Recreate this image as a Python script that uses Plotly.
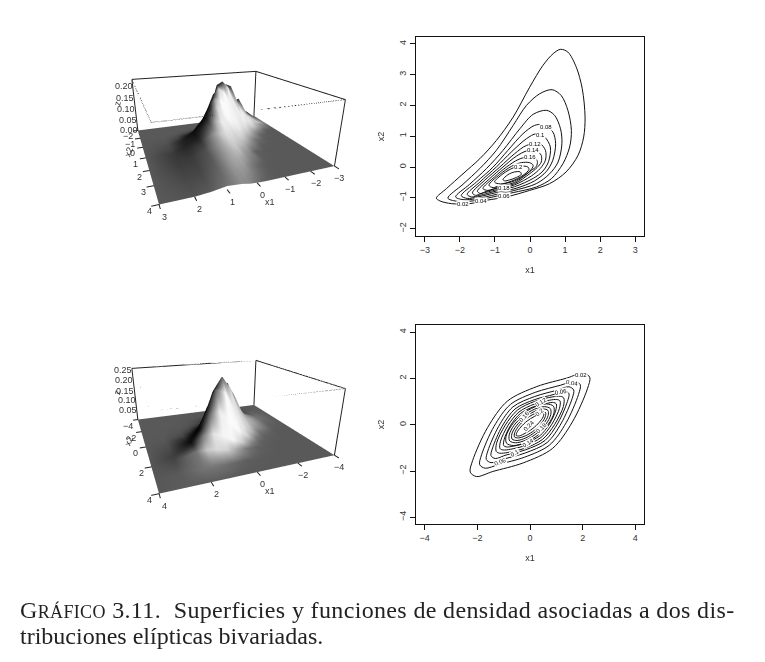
import plotly.graph_objects as go
import numpy as np

# ---------- top surface ----------
top_x1 = [-3,-2.5,-2,-1.5,-1,-.75,-.5,-.25,0,.25,.5,1,1.5,2,3]
top_x2 = [-2,-1.5,-1.25,-1,-.75,-.5,-.25,0,.25,.5,1,1.5,2,3,4]
top_z = [
 [0,0,0,0,0,0,0,0,0,0,0,0,0,0,0],
 [0,0,.001,.001,0,0,0,0,0,0,0,0,0,0,0],
 [0,.003,.014,.012,.006,.004,.002,.001,0,0,0,0,0,0,0],
 [0,.03,.065,.062,.038,.024,.015,.009,.005,.003,.001,0,0,0,0],
 [0,.012,.05,.135,.12,.085,.055,.036,.025,.015,.009,.002,0,0,0],
 [0,.008,.03,.09,.20,.21,.165,.105,.072,.052,.03,.007,.001,0,0],
 [0,.002,.014,.052,.145,.205,.228,.215,.135,.10,.06,.015,.003,0,0],
 [0,0,.006,.03,.09,.14,.185,.205,.185,.13,.085,.03,.005,0,0],
 [0,0,.001,.018,.06,.09,.13,.16,.168,.15,.10,.04,.01,0,0],
 [0,0,0,.008,.038,.065,.085,.125,.145,.13,.105,.045,.012,0,0],
 [0,0,0,.002,.012,.03,.052,.075,.10,.105,.10,.05,.024,0,0],
 [0,0,0,0,.001,.012,.024,.045,.065,.072,.075,.05,.024,0,0],
 [0,0,0,0,0,.002,.012,.022,.042,.05,.053,.04,.022,0,0],
 [0,0,0,0,0,0,.001,.004,.012,.021,.028,.03,.013,0,0],
 [0,0,0,0,0,0,0,0,.001,.003,.008,.012,.004,0,0],
]
# ---------- bottom surface ----------
bot_x1 = [-4,-3,-2,-1.5,-1,-.5,0,.5,1,1.5,2,3,4]
bot_x2 = [-4,-3,-2,-1.5,-1,-.5,0,.5,1,1.5,2,3,4]
bot_z = [
 [0,0,0,0,0,0,0,0,0,0,0,0,0],
 [0,.002,.002,.002,.001,0,0,0,0,0,0,0,0],
 [0,.003,.027,.028,.021,.012,.005,.003,.001,0,0,0,0],
 [0,.002,.037,.068,.068,.053,.027,.012,.003,.001,0,0,0],
 [0,.001,.027,.08,.135,.14,.098,.05,.016,.003,.001,0,0],
 [0,.001,.014,.058,.147,.22,.20,.115,.045,.01,.002,0,0],
 [0,0,.006,.03,.095,.20,.26,.20,.095,.03,.006,0,0],
 [0,0,.002,.01,.045,.115,.20,.22,.147,.058,.014,.001,0],
 [0,0,.001,.003,.016,.05,.098,.14,.135,.08,.027,.001,0],
 [0,0,0,.001,.003,.012,.027,.053,.068,.068,.037,.002,0],
 [0,0,0,0,.001,.003,.005,.012,.021,.028,.027,.003,0],
 [0,0,0,0,0,0,0,0,.001,.002,.002,.002,0],
 [0,0,0,0,0,0,0,0,0,0,0,0,0],
]

# ---------- contour lines, top panel (x1, x2) ----------
top_002 = [(-2.67,-1.01),(-2.38,-.70),(-1.91,-.22),(-1.43,.27),(-.96,.86),(-.48,1.62),(-.01,2.59),(.37,3.30),(.66,3.68),(.87,3.82),(1.08,3.73),(1.32,3.24),(1.49,2.54),(1.57,1.62),(1.53,.97),(1.37,.38),(1.03,-.16),(.56,-.54),(-.01,-.76),(-.67,-.97),(-1.24,-1.08),(-1.72,-1.19),(-2.24,-1.19),(-2.57,-1.10)]
top_004 = [(-2.34,-1.01),(-1.91,-.56),(-1.43,-.05),(-.96,.54),(-.48,1.35),(-.10,2.00),(.28,2.38),(.63,2.51),(.89,2.32),(1.08,1.84),(1.18,1.19),(1.13,.65),(.94,.11),(.61,-.38),(.18,-.65),(-.48,-.83),(-1.05,-.97),(-1.62,-1.10),(-2.10,-1.11)]
top_006 = [(-2.12,-.97),(-1.72,-.56),(-1.24,-.05),(-.77,.54),(-.29,1.24),(.09,1.71),(.47,1.84),(.70,1.68),(.87,1.24),(.91,.76),(.80,.16),(.56,-.22),(.18,-.54),(-.48,-.77),(-.96,-.89),(-1.53,-1.03),(-1.91,-1.06)]
top_008 = [(-1.96,-.93),(-1.53,-.49),(-1.05,0),(-.63,.54),(-.20,1.08),(.13,1.35),(.37,1.37),(.65,1.14),(.73,.76),(.65,.22),(.47,-.14),(.13,-.45),(-.39,-.69),(-.96,-.83),(-1.48,-.97),(-1.79,-1.02)]
top_010 = [(-1.79,-.89),(-1.43,-.49),(-.96,0),(-.53,.49),(-.10,.92),(.18,1.08),(.42,.97),(.58,.65),(.53,.18),(.37,-.13),(.09,-.37),(-.44,-.64),(-.96,-.78),(-1.43,-.92),(-1.67,-.97)]
top_012 = [(-1.64,-.84),(-1.29,-.43),(-.86,0),(-.44,.43),(-.10,.70),(.28,.76),(.44,.54),(.44,.22),(.29,-.05),(.04,-.29),(-.44,-.58),(-.96,-.74),(-1.39,-.86),(-1.55,-.92)]
top_014 = [(-1.50,-.79),(-1.15,-.38),(-.77,0),(-.39,.35),(-.10,.52),(.18,.52),(.32,.38),(.32,.16),(.20,-.02),(-.01,-.22),(-.44,-.54),(-.91,-.68),(-1.29,-.81),(-1.41,-.86)]
top_016 = [(-1.34,-.70),(-1.01,-.32),(-.67,0),(-.34,.24),(-.10,.32),(.13,.29),(.21,.18),(.18,.02),(.04,-.11),(-.44,-.50),(-.86,-.63),(-1.20,-.76)]
top_018 = [(-1.17,-.59),(-.86,-.24),(-.53,.02),(-.25,.14),(-.01,.14),(.09,.05),(-.01,-.14),(-.44,-.45),(-.82,-.57),(-1.05,-.67)]
top_020 = [(-1.01,-.49),(-.77,-.22),(-.48,-.03),(-.25,.03),(-.06,0),(-.03,-.08),(-.20,-.27),(-.53,-.46),(-.84,-.55)]
top_022 = [(-.77,-.41),(-.63,-.25),(-.44,-.16),(-.28,-.16),(-.25,-.24),(-.39,-.34),(-.58,-.42),(-.72,-.45)]
top_rings = [top_002,top_004,top_006,top_008,top_010,top_012,top_014,top_016,top_018,top_020,top_022]

# ---------- contour lines, bottom panel (x1, x2) ----------
bot_002 = [(2.27,2.05),(2.18,1.55),(1.61,.12),(.86,-1.02),(-.26,-1.65),(-1.41,-2.02),(-2.03,-2.24),(-2.27,-2.05),(-2.18,-1.55),(-1.61,-.12),(-.86,1.02),(.26,1.65),(1.41,2.02),(2.03,2.24)]
bot_004 = [(1.91,1.73),(1.84,1.30),(1.37,.08),(.74,-.88),(-.20,-1.40),(-1.17,-1.71),(-1.70,-1.88),(-1.91,-1.73),(-1.84,-1.30),(-1.37,-.08),(-.74,.88),(.20,1.40),(1.17,1.71),(1.70,1.88)]
bot_006 = [(1.66,1.50),(1.60,1.13),(1.19,.07),(.65,-.77),(-.18,-1.22),(-1.02,-1.49),(-1.48,-1.64),(-1.66,-1.50),(-1.60,-1.13),(-1.19,-.07),(-.65,.77),(.18,1.22),(1.02,1.49),(1.48,1.64)]
bot_008 = [(1.48,1.34),(1.42,1.00),(1.06,.07),(.57,-.68),(-.16,-1.08),(-.91,-1.31),(-1.32,-1.46),(-1.48,-1.34),(-1.42,-1.00),(-1.06,-.07),(-.57,.68),(.16,1.08),(.91,1.31),(1.32,1.46)]
bot_010 = [(1.28,1.16),(1.27,.80),(.94,.02),(.48,-.63),(-.18,-1.01),(-.84,-1.20),(-1.15,-1.23),(-1.28,-1.16),(-1.27,-.80),(-.94,-.02),(-.48,.63),(.18,1.01),(.84,1.20),(1.15,1.23)]
bot_012 = [(1.14,1.03),(1.12,.71),(.83,.02),(.42,-.55),(-.16,-.89),(-.74,-1.06),(-1.02,-1.09),(-1.14,-1.03),(-1.12,-.71),(-.83,-.02),(-.42,.55),(.16,.89),(.74,1.06),(1.02,1.09)]
bot_014 = [(1.00,.90),(.98,.63),(.74,.03),(.37,-.48),(-.14,-.78),(-.65,-.93),(-.90,-.96),(-1.00,-.90),(-.98,-.63),(-.74,-.03),(-.37,.48),(.14,.78),(.65,.93),(.90,.96)]
bot_016 = [(.89,.80),(.91,.50),(.70,.03),(.31,-.44),(-.18,-.77),(-.63,-.90),(-.89,-.80),(-.91,-.50),(-.70,-.03),(-.31,.44),(.18,.77),(.63,.90)]
bot_018 = [(.77,.70),(.79,.44),(.61,.03),(.26,-.37),(-.17,-.67),(-.55,-.78),(-.77,-.70),(-.79,-.44),(-.61,-.03),(-.26,.37),(.17,.67),(.55,.78)]
bot_020 = [(.68,.62),(.69,.40),(.52,.05),(.21,-.30),(-.16,-.57),(-.49,-.68),(-.68,-.62),(-.69,-.40),(-.52,-.05),(-.21,.30),(.16,.57),(.49,.68)]
bot_022 = [(.59,.53),(.58,.35),(.44,.07),(.17,-.24),(-.16,-.47),(-.44,-.57),(-.59,-.53),(-.58,-.35),(-.44,-.07),(-.17,.24),(.16,.47),(.44,.57)]
bot_024 = [(.52,.47),(.50,.34),(.35,.10),(.11,-.16),(-.17,-.36),(-.40,-.48),(-.52,-.47),(-.50,-.34),(-.35,-.10),(-.11,.16),(.17,.36),(.40,.48)]
bot_rings = [bot_002,bot_004,bot_006,bot_008,bot_010,bot_012,bot_014,bot_016,bot_018,bot_020,bot_022,bot_024]

# contour label texts
top_label_text = ["0.08","0.1","0.12","0.14","0.16","0.2","0.18","0.06","0.04","0.02"]
top_label_x1 = [.47,.30,.15,.09,.01,-.32,-.75,-.75,-1.39,-1.91]
top_label_x2 = [1.30,1.03,.76,.54,.31,0,-.67,-.95,-1.10,-1.19]
bot_label_text = ["0.02","0.04","0.06","0.06","0.1","0.12","0.16","0.2","0.24","0.18","0.14"]
bot_label_x1 = [1.95,1.61,1.16,-1.15,-.58,.43,-.24,.37,-.05,.43,-.08]
bot_label_x2 = [2.15,1.79,1.40,-1.59,-1.20,.97,.35,.56,-.06,-.12,-.78]
bot_label_rot = [0,10,-10,-20,-30,-30,-50,-40,-45,-45,-30]

# tick labels
top_x1_ticks = [-3,-2,-1,0,1,2,3]
top_x2_ticks = [-2,-1,0,1,2,3,4]
top_z_ticks = [0,.05,.10,.15,.20]
bot_x1_ticks = [-4,-2,0,2,4]
bot_x2_ticks = [-4,-2,0,2,4]
bot_z_ticks = [.05,.10,.15,.20,.25]

W, H = 765, 662
INK = "#111111"
FONT = "Liberation Sans"
K = 1.5        # scene axes are wider than the drawn box so that ticks fit
ZASPECT = .40
LIGHT = np.array([-.45, .75, .48])
SHADE = 3.5

fig = go.Figure()

def frame3d(xr, yr, ztop, scene, x_ticks, y_ticks, dotted_a, dotted_b):
    x0, x1 = xr
    y0, y1 = yr
    s = dict(mode="lines", showlegend=False, hoverinfo="skip", scene=scene)
    solid = dict(color="#222222", width=2)
    fig.add_trace(go.Scatter3d(x=[x1,x0,x0], y=[y0,y0,y1], z=[ztop]*3, line=solid, **s))
    for (a,b) in [(x1,y0),(x0,y0),(x0,y1)]:
        fig.add_trace(go.Scatter3d(x=[a,a], y=[b,b], z=[0,ztop], line=solid, **s))
    dot = dict(color="#333333", width=2, dash="dot")
    fig.add_trace(go.Scatter3d(x=[x1,x1], y=[y0,y1], z=[ztop,ztop], line=dot, **s))
    fig.add_trace(go.Scatter3d(x=[x1,dotted_a], y=[y1,y1], z=[ztop,ztop], line=dot, **s))
    fig.add_trace(go.Scatter3d(x=[dotted_b,x0], y=[y1,y1], z=[ztop,ztop], line=dot, **s))
    tx = (y1-y0)*0.035
    for t in x_ticks:
        fig.add_trace(go.Scatter3d(x=[t,t], y=[y1,y1+tx], z=[0,0], line=solid, **s))
    tx = (x1-x0)*0.035
    for t in y_ticks:
        fig.add_trace(go.Scatter3d(x=[x1,x1+tx], y=[t,t], z=[0,0], line=solid, **s))

def surface(x, y, z, scene, xr, yr, ztop):
    za = np.array(z, dtype=float)
    sx, sy, sz = 1/(xr[1]-xr[0]), 1/(yr[1]-yr[0]), ZASPECT/ztop
    dzdy, dzdx = np.gradient(za*sz, np.array(y, float)*sy, np.array(x, float)*sx)
    norm = np.sqrt(dzdx**2 + dzdy**2 + 1)
    d = (-dzdx*LIGHT[0] - dzdy*LIGHT[1] + LIGHT[2]) / norm
    shade = ((1 + d) / 2) ** SHADE
    fig.add_trace(go.Surface(
        x=x, y=y, z=z, surfacecolor=shade, cmin=0, cmax=1, scene=scene, showscale=False, hoverinfo="skip",
        colorscale=[[0,"#000000"],[1,"#ffffff"]],
        lighting=dict(ambient=1.0, diffuse=0.0, specular=0.0, roughness=1.0, fresnel=0.0),
    ))

surface(top_x1, top_x2, top_z, "scene", (-3,3), (-2,4), .23)
surface(bot_x1, bot_x2, bot_z, "scene2", (-4,4), (-4,4), .257)
frame3d((-3,3), (-2,4), .23, "scene", top_x1_ticks, top_x2_ticks, 1.4, 0.0)
frame3d((-4,4), (-4,4), .257, "scene2", bot_x1_ticks, bot_x2_ticks, 1.8, -.3)

def ann3d(x, y, z, text, xs, ys, size=9, angle=0):
    return dict(x=x, y=y, z=z, text=text, showarrow=False, xshift=xs, yshift=ys,
                font=dict(family=FONT, size=size, color="#333"), textangle=angle)

def scene_layout(xr, yr, ztop, dom, x_ticks, y_ticks, z_ticks):
    anns = []
    wx, wy = xr[1]-xr[0], yr[1]-yr[0]
    for t in x_ticks:
        anns.append(ann3d(t, yr[1], 0, str(t).replace("-","−"), 5, -12))
    for t in y_ticks:
        anns.append(ann3d(xr[1], t, 0, str(t).replace("-","−"), -10, -6))
    for t in z_ticks:
        anns.append(ann3d(xr[1], yr[0], t, "%.2f" % t, -9, 0))
    anns.append(ann3d((xr[0]+xr[1])/2, yr[1], 0, "x1", 13, -19))
    anns.append(ann3d(xr[1], (yr[0]+yr[1])/2, 0, "x2", -17, 6, angle=-70))
    anns.append(ann3d(xr[1], yr[0], ztop*.55, "z", -17, 0, angle=-80))
    ax = dict(visible=False, showbackground=False, showgrid=False, zeroline=False, showspikes=False)
    cx, cy = (xr[0]+xr[1])/2, (yr[0]+yr[1])/2
    d, c = 1.8, -.08
    return dict(
        domain=dict(x=[dom[0]/W, dom[1]/W], y=[1-dom[3]/H, 1-dom[2]/H]),
        xaxis=dict(range=[cx-wx*K/2, cx+wx*K/2], **ax), yaxis=dict(range=[cy-wy*K/2, cy+wy*K/2], **ax),
        # lower bound just under zero so the flat part of the surface is not clipped at the bound
        zaxis=dict(range=[-.004,ztop], **ax),
        aspectmode="manual", aspectratio=dict(x=K, y=K, z=ZASPECT),
        camera=dict(eye=dict(x=.34*d, y=.875*d, z=.36*d+c), up=dict(x=0,y=0,z=1), center=dict(x=0,y=0,z=c)),
        bgcolor="rgba(0,0,0,0)", annotations=anns, dragmode=False,
    )

def add_rings(rings, xa, ya):
    for r in rings:
        closed = r + r[:1]
        fig.add_trace(go.Scatter(x=[p[0] for p in closed], y=[p[1] for p in closed], mode="lines",
                                 xaxis=xa, yaxis=ya, showlegend=False, hoverinfo="skip",
                                 line=dict(color=INK, width=1, shape="spline", smoothing=.9)))

add_rings(top_rings, "x", "y")
add_rings(bot_rings, "x2", "y2")

annotations = []
def lab(x, y, t, xr, yr, rot=0):
    annotations.append(dict(x=x, y=y, xref=xr, yref=yr, text=t, showarrow=False, bgcolor="white", borderpad=0,
                            textangle=rot, font=dict(family=FONT, size=6, color="#000")))
for x, y, t in zip(top_label_x1, top_label_x2, top_label_text):
    lab(x, y, t, "x", "y")
for x, y, t, r in zip(bot_label_x1, bot_label_x2, bot_label_text, bot_label_rot):
    lab(x, y, t, "x2", "y2", r)

caption1 = ("<span style='letter-spacing:.35px'>G<span style='font-size:18px'>RÁFICO</span> 3.11.  "
            "Superficies y funciones de densidad asociadas a dos dis-</span>")
caption2 = "tribuciones elípticas bivariadas."
for yy, c in [(610, caption1), (636, caption2)]:
    annotations.append(dict(x=18/W, y=1-yy/H, xref="paper", yref="paper", xanchor="left", yanchor="middle",
                            text=c, showarrow=False, font=dict(family="Liberation Serif", size=24, color="#222")))

def ax2d(rng, dom, ticks, title, anchor, angle=None):
    d = dict(range=rng, domain=dom, tickvals=ticks, ticks="outside", ticklen=5, tickwidth=1, tickcolor=INK,
             showline=True, mirror=True, linecolor=INK, linewidth=1.2, showgrid=False, zeroline=False, anchor=anchor,
             tickfont=dict(family=FONT, size=9, color="#333"),
             title=dict(text=title, font=dict(family=FONT, size=9, color="#333"), standoff=12))
    if angle is not None:
        d["tickangle"] = angle
    return d

fig.update_layout(
    width=W, height=H, margin=dict(l=0, r=0, t=0, b=0),
    paper_bgcolor="white", plot_bgcolor="white", showlegend=False, hovermode=False,
    font=dict(family=FONT),
    xaxis=ax2d([-3.25,3.25], [416/W,644/W], top_x1_ticks, "x1", "y"),
    yaxis=ax2d([-2.24,4.22], [1-236/H,1-37/H], top_x2_ticks, "x2", "x", -90),
    xaxis2=ax2d([-4.33,4.33], [416/W,644/W], bot_x1_ticks, "x1", "y2"),
    yaxis2=ax2d([-4.29,4.31], [1-524/H,1-325/H], bot_x2_ticks, "x2", "x2", -90),
    scene=scene_layout((-3,3), (-2,4), .23, (72,372,16,244), top_x1_ticks, top_x2_ticks, top_z_ticks),
    scene2=scene_layout((-4,4), (-4,4), .257, (72,372,305,533), bot_x1_ticks, bot_x2_ticks, bot_z_ticks),
    annotations=annotations,
)
fig.write_html("out.html", config=dict(displayModeBar=False),
               post_script="document.body.style.margin='0';")
